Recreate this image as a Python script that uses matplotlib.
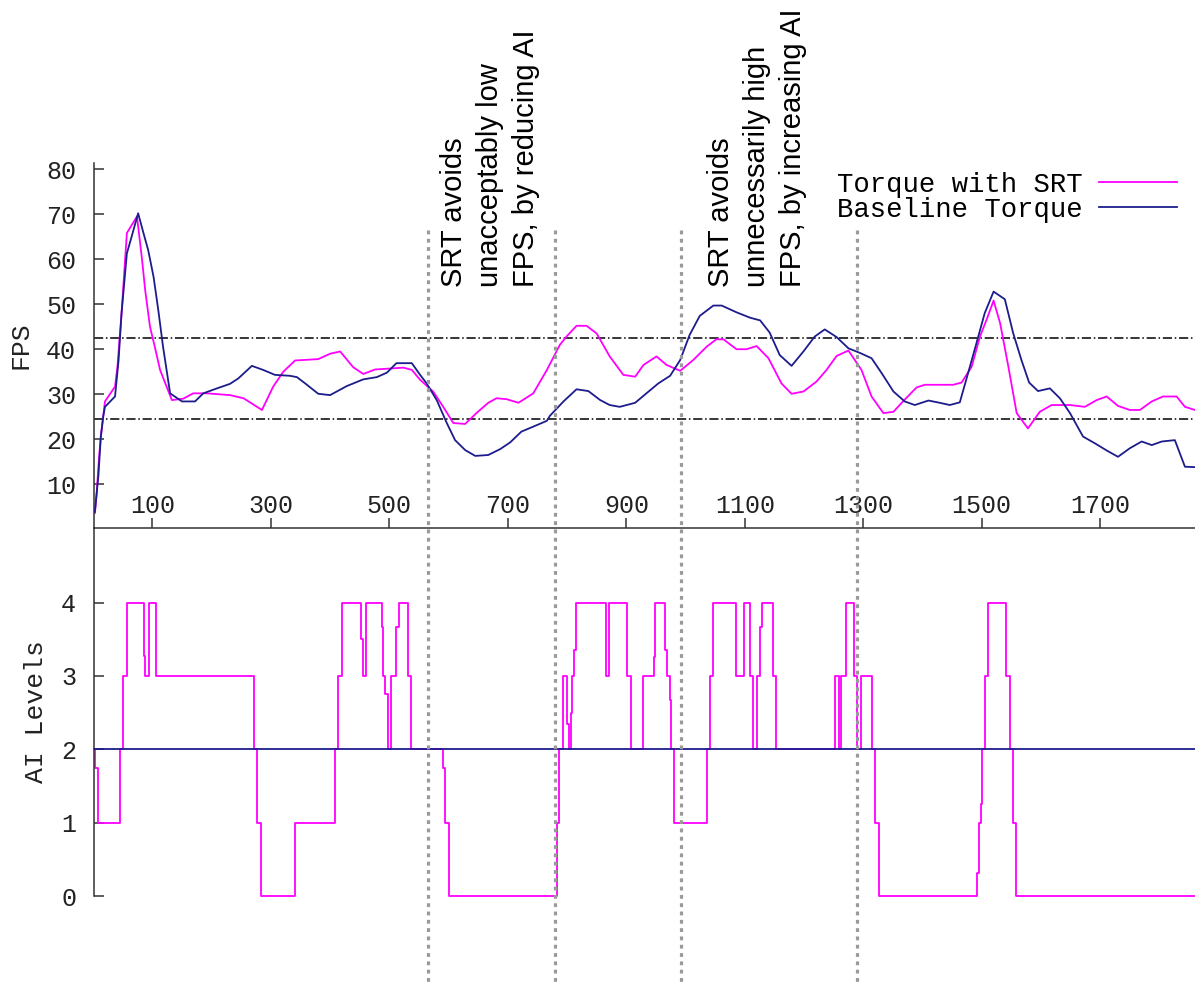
import matplotlib
matplotlib.use('Agg')
import matplotlib.pyplot as plt
import matplotlib.transforms as mtransforms
from matplotlib.lines import Line2D

# ---------------- data ----------------
frames_srt = [3, 6, 10, 13, 17, 20, 37, 41, 48, 57, 74, 82, 88, 96, 104, 113, 124, 133,
              152, 169, 192, 231, 254, 285, 304, 321, 341, 380, 400, 417, 439, 456, 476,
              524, 538, 552, 574, 591, 608, 628, 647, 667, 681, 698, 718, 743, 766, 788,
              799, 816, 833, 850, 872, 895, 915, 929, 951, 968, 991, 1013, 1036, 1052,
              1064, 1086, 1103, 1120, 1140, 1162, 1179, 1199, 1221, 1238, 1255, 1275,
              1297, 1314, 1334, 1351, 1367, 1390, 1404, 1452, 1466, 1483, 1497, 1508,
              1520, 1531, 1545, 1559, 1578, 1598, 1618, 1649, 1674, 1694, 1711, 1730,
              1750, 1767, 1787, 1806, 1829, 1843, 1860]
fps_srt = [3.6, 8, 16, 20.5, 25, 28.4, 31.7, 36, 48, 65.8, 69.5, 60.6, 53, 45, 40.6, 35.4,
           31.7, 28.7, 29, 30.2, 30.2, 29.8, 29.1, 26.5, 31.7, 35, 37.5, 37.8, 39, 39.5,
           36, 34.5, 35.5, 35.9, 35.4, 33.2, 30.6, 27.2, 23.6, 23.4, 25.8, 28.1, 29.1,
           28.9, 28.1, 30.2, 35.4, 41, 42.8, 45.2, 45.2, 43.5, 38.4, 34.3, 33.9, 36.5,
           38.4, 36.5, 35.2, 37.6, 40.6, 42.2, 42.2, 40, 40, 40.7, 38, 32.4, 30.1, 30.6,
           32.8, 35.4, 38.5, 39.7, 35.4, 29.5, 25.8, 26.1, 28.4, 31.5, 32.1, 32.1, 32.6,
           36.1, 42.8, 46.5, 50.8, 45.8, 36.1, 25.8, 22.4, 26.1, 27.6, 27.6, 27.2, 28.7,
           29.5, 27.4, 26.5, 26.5, 28.4, 29.5, 29.5, 27.2, 26.5]

frames_base = [3, 6, 9, 13, 17, 20, 37, 43, 48, 57, 65, 76, 85, 93, 102, 110, 118, 130,
               150, 172, 186, 209, 231, 245, 268, 287, 307, 332, 344, 358, 380, 400, 428,
               456, 479, 496, 512, 538, 552, 563, 580, 597, 611, 628, 645, 667, 687, 704,
               723, 743, 766, 771, 794, 816, 836, 856, 872, 889, 915, 934, 954, 974, 991,
               1007, 1024, 1047, 1061, 1086, 1109, 1126, 1142, 1159, 1179, 1199, 1218,
               1235, 1255, 1275, 1294, 1314, 1331, 1351, 1370, 1387, 1410, 1429, 1446,
               1463, 1477, 1491, 1505, 1520, 1539, 1553, 1567, 1580, 1595, 1615, 1632,
               1649, 1671, 1691, 1711, 1730, 1750, 1770, 1787, 1804, 1826, 1843, 1860]
fps_base = [3.9, 8, 12, 20.6, 25, 27.2, 29.5, 37.6, 48, 61.3, 65, 70.2, 65.8, 62, 56.1,
            48.7, 40.6, 30.2, 28.4, 28.4, 30.2, 31.3, 32.3, 33.5, 36.3, 35.4, 34.3, 34.1,
            33.8, 32.4, 30.1, 29.8, 31.8, 33.3, 33.8, 34.8, 36.9, 36.9, 34.3, 32.4, 28.7,
            23.6, 19.8, 17.6, 16.3, 16.5, 17.8, 19.3, 21.7, 22.8, 24.1, 25.2, 28.4, 31.1,
            30.7, 28.7, 27.6, 27.2, 28.1, 30.2, 32.4, 34.1, 37.6, 43.2, 47.4, 49.7, 49.7,
            48.2, 47, 46.4, 43.7, 38.7, 36.3, 39.5, 42.8, 44.4, 42.7, 40.2, 39.2, 38, 34.7,
            30.6, 28.4, 27.6, 28.6, 28.1, 27.6, 28.2, 34.7, 41.3, 48, 52.8, 51.1, 43.6,
            37.6, 32.6, 30.7, 31.3, 29.1, 25.8, 20.6, 19.1, 17.5, 16.1, 18, 19.5, 18.7,
            19.5, 19.8, 13.9, 13.8]

ai_frames = [2, 3, 8, 46, 51, 57, 86, 88, 95, 106, 272, 277, 283, 341, 409, 414, 420, 452,
             455, 461, 487, 490, 493, 497, 503, 511, 516, 531, 537, 591, 594, 600, 783,
             787, 794, 800, 803, 806, 809, 812, 815, 865, 870, 902, 908, 928, 946, 949,
             966, 969, 973, 975, 980, 1036, 1042, 1047, 1085, 1099, 1108, 1114, 1121,
             1125, 1129, 1147, 1152, 1253, 1259, 1263, 1271, 1285, 1289, 1297, 1315,
             1319, 1326, 1492, 1495, 1498, 1500, 1505, 1511, 1541, 1547, 1552, 1558, 1860]
ai_srt = [2, 1.75, 1, 2, 3, 4, 3.27, 3, 4, 3, 2, 1, 0, 1, 2, 3, 4, 3.5, 3, 4, 3.67, 3,
          2.75, 2, 3, 3.67, 4, 3, 2, 1.75, 1, 0, 1, 2, 3, 2.35, 2, 2.5, 3, 3.35, 4, 3, 4,
          3, 2, 3, 3.26, 4, 3.35, 3, 2.67, 2, 1, 2, 3, 4, 3, 4, 3, 2, 3, 3.67, 4, 3, 2,
          3, 2, 3, 4, 3, 2, 3, 2, 1, 0, 0.32, 1, 1.26, 2, 3, 4, 3, 2, 1, 0, 0]
ai_base_frames = [2, 1860]
ai_base = [2, 2]

fps_thresholds = [42.4, 24.4]
event_frames = [565, 780, 993, 1289]
frame_ticks = [100, 300, 500, 700, 900, 1100, 1300, 1500, 1700]
fps_ticks = [10, 20, 30, 40, 50, 60, 70, 80]
ai_ticks = [0, 1, 2, 3, 4]
series_labels = ['Torque with SRT', 'Baseline Torque']
annotations = ['SRT avoids\nunacceptably low\nFPS, by reducing AI',
               'SRT avoids\nunnecessarily high\nFPS, by increasing AI']

# ---------------- styling ----------------
W, H = 1195, 985
MAGENTA = '#ff00ff'
NAVY = '#1c1c8c'
MONO = 'Liberation Mono'
TXT = '#222222'

fig = plt.figure(figsize=(W / 100, H / 100), dpi=100)


def rect(l, t, r, b):
    return [l / W, 1 - b / H, (r - l) / W, (b - t) / H]


ax1 = fig.add_axes(rect(94.3, 163.3, 1195, 527.7))
ax2 = fig.add_axes(rect(94.3, 527.7, 1195, 896), sharex=ax1)
ax2.patch.set_visible(False)

# top panel
for v in fps_thresholds:
    ax1.axhline(v, color='black', lw=1.1, linestyle=(0, (6, 1.8, 1, 1.8)), zorder=1)
l1, = ax1.plot(frames_srt, fps_srt, color=MAGENTA, lw=1.3, zorder=2)
l2, = ax1.plot(frames_base, fps_base, color=NAVY, lw=1.3, zorder=3)

ax1.set_xlim(2, 1860)
ax1.set_ylim(0.35, 81.3)
ax1.set_xticks(frame_ticks)
ax1.set_yticks(fps_ticks)
for s in ['top', 'right']:
    ax1.spines[s].set_visible(False)
for s in ['left', 'bottom']:
    ax1.spines[s].set_color('#333333')
    ax1.spines[s].set_linewidth(1.1)
ax1.tick_params(axis='y', direction='in', length=7.5, width=1.1, pad=13,
                labelsize=18, colors='#333333', labelcolor=TXT)
ax1.tick_params(axis='x', direction='in', length=7, width=1.1, pad=-24,
                labelsize=18, colors='#333333', labelcolor=TXT)
for lab in ax1.get_xticklabels() + ax1.get_yticklabels():
    lab.set_family(MONO)
ax1.set_ylabel('FPS', family=MONO, fontsize=19, color=TXT)
ax1.yaxis.set_label_coords(-0.0557, 0.5)

# bottom panel
ax2.step(ai_frames, ai_srt, where='post', color=MAGENTA, lw=1.3, clip_on=False, zorder=2)
ax2.plot(ai_base_frames, ai_base, color=NAVY, lw=1.3, zorder=3)
ax2.set_ylim(0, 5.02)
ax2.set_yticks(ai_ticks)
for s in ['top', 'right', 'bottom']:
    ax2.spines[s].set_visible(False)
ax2.spines['left'].set_color('#333333')
ax2.spines['left'].set_linewidth(1.1)
ax2.tick_params(axis='x', bottom=False, labelbottom=False)
ax2.tick_params(axis='y', direction='in', length=7.5, width=1.1, pad=13,
                labelsize=18, colors='#333333', labelcolor=TXT)
for lab in ax2.get_yticklabels():
    lab.set_family(MONO)
ax2.set_ylabel('AI Levels', family=MONO, fontsize=19, color=TXT)
ax2.yaxis.set_label_coords(-0.0422, 0.5)

# event markers spanning both panels
blend = mtransforms.blended_transform_factory(ax1.transData, fig.transFigure)
for xe in event_frames:
    fig.add_artist(Line2D([xe, xe], [1 - 230 / H, 0.0], transform=blend,
                          color='#9a9a9a', lw=2.3, linestyle=(0, (1.2, 1.4)), zorder=5))

# annotations
fig.text(440 / W, 1 - 287 / H, annotations[0], rotation=90, ha='left', va='bottom',
         fontsize=21, family='Liberation Sans', linespacing=1.36, multialignment='left')
fig.text(707 / W, 1 - 287 / H, annotations[1], rotation=90, ha='left', va='bottom',
         fontsize=21, family='Liberation Sans', linespacing=1.36, multialignment='left')

# legend
ax1.legend([l1, l2], series_labels, loc='upper right',
           bbox_to_anchor=(1177 / W, 1 - 172 / H), bbox_transform=fig.transFigure,
           frameon=False, markerfirst=False, handlelength=2.85, handletextpad=0.6,
           borderpad=0, borderaxespad=0, labelspacing=-0.05,
           prop={'family': MONO, 'size': 19.6})

fig.savefig('out.png', dpi=100)
